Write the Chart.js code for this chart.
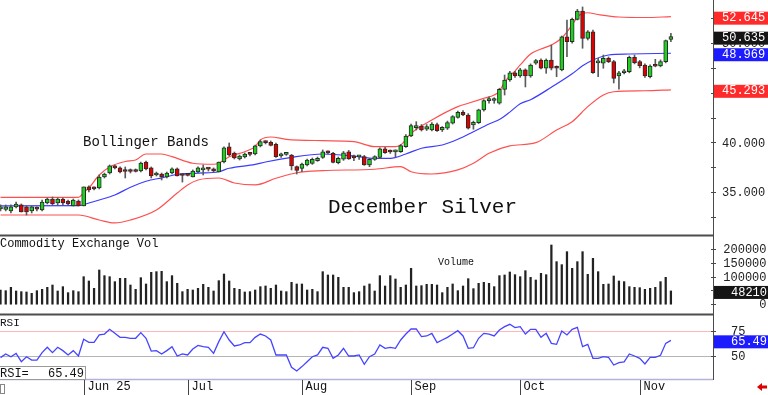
<!DOCTYPE html>
<html>
<head>
<meta charset="utf-8">
<script src="https://cdn.jsdelivr.net/npm/chart.js@4.4.1/dist/chart.umd.min.js"></script>
<style>
  html, body { margin: 0; padding: 0; background: #fff; }
  #wrap { position: relative; width: 768px; height: 395px; overflow: hidden; background: #fff; }
  canvas { position: absolute; left: 0; }
</style>
</head>
<body>
<div id="wrap">
  <canvas id="priceChart" width="768" height="235" style="top:0px"></canvas>
  <canvas id="volChart" width="768" height="80" style="top:234px"></canvas>
  <canvas id="rsiChart" width="768" height="82" style="top:313px"></canvas>
</div>
<script>
// Daily bars, index 0 = first bar on screen (mid May), index 129 = last bar
const dateTicks = [16, 36, 58, 79, 100, 123];
const dateLabels = ['Jun 25', 'Jul', 'Aug', 'Sep', 'Oct', 'Nov'];

const openVals = [
  33.32, 33.27, 33.12, 33.52, 33.72, 33.52, 33.12, 33.35, 33.22, 33.92,
  34.32, 33.92, 34.32, 34.12, 33.62, 34.12, 33.62, 35.53, 35.43, 35.43,
  36.53, 36.93, 37.64, 37.44, 37.18, 37.18, 37.18, 37.13, 38.04, 37.44,
  36.73, 36.83, 36.53, 36.93, 37.34, 36.78, 36.78, 36.53, 37.03, 37.24,
  37.40, 37.34, 37.03, 38.04, 39.55, 38.94, 38.34, 38.54, 38.88, 38.84,
  39.65, 40.05, 40.02, 39.82, 38.65, 38.80, 38.74, 37.57, 37.40, 37.74,
  37.90, 38.17, 38.50, 39.00, 38.91, 37.97, 38.31, 39.07, 38.50, 38.55,
  38.57, 37.74, 38.30, 38.51, 39.35, 39.10, 39.05, 39.07, 39.57, 40.65,
  41.49, 41.66, 41.33, 41.25, 41.79, 41.25, 41.43, 41.93, 42.53, 43.03,
  42.76, 41.76, 42.00, 43.27, 44.20, 44.22, 43.94, 45.34, 46.28, 47.01,
  46.68, 47.29, 46.68, 47.96, 48.29, 47.46, 48.29, 47.55, 47.29, 50.63,
  50.13, 52.38, 53.21, 50.47, 51.13, 48.00, 47.96, 48.46, 48.12, 46.68,
  47.01, 47.11, 48.56, 48.12, 47.79, 46.61, 47.72, 47.69, 48.12, 50.35
];
const highVals = [
  33.72, 33.72, 33.72, 34.02, 33.82, 33.62, 33.62, 33.52, 34.22, 34.42,
  34.52, 34.42, 34.42, 34.22, 34.32, 34.22, 35.53, 35.63, 35.53, 36.73,
  36.93, 37.74, 37.74, 37.54, 37.54, 37.34, 37.34, 38.04, 38.14, 37.54,
  37.03, 36.93, 37.03, 37.44, 37.44, 36.83, 36.83, 37.24, 37.54, 37.74,
  37.44, 37.44, 38.04, 39.55, 39.95, 39.04, 38.74, 38.94, 38.94, 39.75,
  40.25, 40.15, 40.15, 39.95, 38.94, 38.94, 38.80, 37.64, 37.94, 38.34,
  38.44, 38.54, 39.25, 39.17, 39.00, 38.54, 39.10, 39.20, 38.74, 38.70,
  38.70, 38.40, 38.67, 39.45, 39.50, 39.25, 39.25, 39.80, 40.80, 41.86,
  42.09, 41.80, 41.80, 42.00, 41.95, 41.60, 42.15, 42.70, 43.15, 43.20,
  42.90, 42.15, 43.35, 44.30, 44.60, 44.50, 45.45, 46.78, 47.15, 47.15,
  47.45, 47.40, 47.90, 48.35, 48.40, 48.40, 49.80, 47.70, 50.70, 52.31,
  52.50, 53.38, 53.62, 51.25, 51.30, 48.46, 48.79, 48.60, 48.25, 47.15,
  47.35, 48.69, 48.79, 48.25, 47.90, 47.80, 48.36, 48.30, 50.30, 50.97
];
const lowVals = [
  33.12, 33.12, 32.91, 33.42, 33.01, 32.71, 32.91, 33.12, 33.12, 33.82,
  33.72, 33.72, 33.72, 33.72, 33.62, 33.62, 33.62, 35.02, 35.22, 35.33,
  36.43, 36.83, 37.34, 36.93, 36.43, 36.93, 37.03, 37.03, 37.24, 36.43,
  36.63, 36.23, 36.43, 36.83, 36.63, 36.02, 36.63, 36.53, 36.93, 36.73,
  37.13, 37.03, 37.03, 37.94, 38.64, 38.34, 38.24, 38.44, 38.64, 38.74,
  39.55, 39.85, 39.65, 38.50, 38.50, 38.70, 37.24, 36.83, 37.07, 37.64,
  37.80, 38.10, 38.40, 38.84, 37.94, 37.85, 38.20, 38.30, 38.17, 38.30,
  37.70, 37.57, 38.20, 38.40, 38.90, 38.90, 38.57, 39.00, 39.50, 40.58,
  41.25, 41.15, 41.20, 41.15, 41.10, 41.10, 41.30, 41.85, 42.45, 42.70,
  41.35, 41.33, 41.90, 43.15, 43.94, 43.94, 43.85, 44.77, 46.15, 46.55,
  46.55, 45.58, 46.55, 47.85, 47.40, 46.95, 47.29, 46.61, 47.20, 48.62,
  49.97, 52.31, 49.47, 50.30, 46.95, 46.61, 47.46, 48.02, 45.98, 45.37,
  46.90, 47.00, 47.90, 47.50, 46.55, 46.50, 47.60, 47.60, 48.00, 50.12
];
const closeVals = [
  33.52, 33.52, 33.52, 33.82, 33.01, 33.01, 33.52, 33.30, 34.02, 34.32,
  33.82, 34.32, 33.92, 33.82, 34.22, 33.62, 35.53, 35.22, 35.33, 36.53,
  36.83, 37.64, 37.44, 37.03, 37.08, 37.08, 37.08, 37.94, 37.34, 36.63,
  36.93, 36.53, 36.93, 37.34, 36.63, 36.68, 36.70, 37.13, 37.44, 37.44,
  37.32, 37.13, 38.04, 39.45, 38.74, 38.44, 38.64, 38.84, 38.80, 39.65,
  40.08, 39.98, 39.70, 38.57, 38.82, 38.84, 37.64, 37.18, 37.84, 38.24,
  38.30, 38.40, 39.07, 38.96, 38.00, 38.41, 38.97, 38.34, 38.45, 38.61,
  37.74, 38.30, 38.57, 39.35, 38.97, 39.04, 39.07, 39.68, 40.65, 41.69,
  41.69, 41.25, 41.59, 41.86, 41.19, 41.52, 41.99, 42.59, 43.03, 42.76,
  41.43, 42.03, 43.27, 44.20, 44.37, 44.30, 45.34, 46.28, 47.01, 46.68,
  47.29, 46.68, 47.79, 48.22, 47.46, 48.29, 47.46, 47.46, 50.63, 50.13,
  52.38, 53.21, 50.47, 51.13, 47.01, 48.05, 48.46, 48.12, 46.45, 47.01,
  47.21, 48.56, 48.02, 47.72, 46.68, 47.69, 47.66, 48.12, 50.23, 50.635
];

// Bollinger bands, read as [bar index, value]
const upperBand = [
  [0, 34.49], [15, 34.49], [16, 34.95], [17, 35.43], [19, 36.73], [21, 37.54], [24, 38.09],
  [26, 38.24], [28, 38.84], [31, 38.84], [33, 38.57], [37, 37.91], [41, 37.81], [42, 37.91],
  [44, 38.57], [47, 39.07], [49, 39.58], [50, 40.25], [52, 40.55], [55, 40.32], [62, 40.18],
  [68, 40.08], [72, 39.58], [76, 39.58], [77, 39.75], [79, 40.92], [83, 42.26], [88, 43.60],
  [90, 43.94], [93, 44.44], [95, 44.77], [96, 45.17], [97, 46.08], [98, 46.68], [99, 47.18],
  [100, 47.79], [102, 48.89], [104, 49.40], [106, 49.80], [108, 50.50], [110, 51.81],
  [111, 52.61], [112, 52.96], [113, 53.04], [115, 52.86], [119, 52.61], [124, 52.56], [129, 52.645]
];
const middleBand = [
  [0, 33.62], [15, 33.65], [17, 33.92], [19, 34.22], [22, 34.72], [25, 35.50], [28, 36.10],
  [31, 36.45], [34, 36.78], [38, 36.92], [42, 37.06], [44, 37.41], [49, 37.79], [51, 38.04],
  [56, 38.51], [62, 38.84], [68, 38.64], [72, 38.41], [75, 38.41], [78, 38.84], [81, 39.42],
  [85, 39.75], [88, 40.32], [91, 41.08], [94, 41.86], [96, 42.30], [98, 43.05], [100, 43.90],
  [102, 44.30], [106, 45.55], [110, 46.90], [112, 47.70], [114, 48.29], [117, 48.79],
  [121, 48.89], [129, 48.969]
];
const lowerBand = [
  [0, 32.71], [15, 32.71], [19, 32.21], [22, 31.91], [25, 32.21], [30, 33.22], [34, 34.92],
  [36, 35.73], [38, 36.23], [42, 36.43], [45, 35.93], [49, 35.73], [53, 36.40], [57, 36.96],
  [62, 37.17], [72, 37.31], [77, 37.57], [79, 37.06], [83, 36.83], [88, 37.24], [91, 37.91],
  [94, 38.91], [98, 39.65], [103, 39.98], [107, 41.25], [110, 42.09], [113, 43.60],
  [116, 44.77], [118, 45.10], [124, 45.20], [129, 45.293]
];

const volume = [
  51600, 49200, 61300, 48000, 45600, 44400, 39500, 49200, 54100, 61300,
  69800, 48000, 63800, 42000, 49200, 45600, 100100, 84400, 57700, 124400,
  103800, 100100, 82000, 94100, 94100, 69800, 54100, 96500, 73500, 115900,
  118300, 119500, 82000, 103800, 75900, 45600, 54100, 51600, 57700, 72200,
  61300, 48000, 85600, 109800, 84400, 57700, 54100, 44400, 45600, 51600,
  63800, 66200, 57700, 69800, 48000, 45600, 79500, 73500, 73500, 51600,
  54100, 45600, 118300, 106200, 106200, 97700, 61300, 61300, 42000, 45600,
  66200, 73500, 48000, 103800, 66200, 103800, 91600, 61300, 69800, 130400,
  66200, 67400, 72200, 72200, 69800, 42000, 61300, 73500, 49200, 66200,
  92800, 56500, 75900, 79500, 75900, 63800, 103800, 106200, 117100, 107400,
  100100, 121900, 97700, 88000, 112200, 107400, 215300, 154700, 143800, 191000,
  130400, 154700, 191000, 108600, 166800, 118300, 72200, 73500, 102600, 84400,
  82000, 63800, 61300, 60100, 54100, 57700, 61300, 82000, 97700, 48210
];

const rsi = [
  48.4, 52.0, 49.3, 52.6, 44.4, 49.3, 46.0, 46.0, 53.3, 58.6,
  53.3, 58.6, 55.3, 51.0, 55.3, 50.0, 66.5, 63.5, 63.5, 70.8,
  71.7, 76.4, 72.4, 68.4, 68.4, 67.5, 67.5, 73.1, 67.5, 54.9,
  55.3, 52.0, 55.3, 59.2, 50.0, 52.0, 51.0, 56.9, 60.5, 59.2,
  58.6, 52.6, 64.2, 74.0, 65.8, 59.9, 60.9, 63.2, 63.2, 68.4,
  71.7, 69.8, 65.8, 51.0, 51.0, 51.0, 38.8, 35.2, 39.5, 44.4,
  49.3, 51.0, 58.6, 57.6, 47.7, 51.0, 57.6, 50.0, 50.0, 51.0,
  41.8, 49.3, 52.0, 60.9, 57.6, 58.6, 57.6, 65.8, 71.7, 76.7,
  76.7, 69.1, 69.8, 72.4, 63.2, 65.8, 68.4, 71.7, 75.0, 69.8,
  57.6, 58.2, 67.5, 72.4, 71.7, 69.8, 75.7, 79.0, 81.3, 78.0,
  79.0, 71.7, 76.4, 76.4, 68.4, 72.4, 62.5, 61.5, 74.7, 70.8,
  76.4, 78.3, 59.2, 61.5, 47.7, 47.7, 49.3, 48.7, 41.1, 43.4,
  44.1, 52.0, 50.0, 47.7, 42.1, 48.7, 48.7, 50.7, 62.5, 65.49
];

const priceTicks = [35, 40, 45, 50];
const volTicks = [0, 50000, 100000, 150000, 200000];
const rsiTicks = [50, 75];

// ---- helpers ----
const MONO = '"Liberation Mono", "DejaVu Sans Mono", monospace';
const last = arr => arr[arr.length - 1];

function baseOptions(yMin, yMax, pad) {
  return {
    responsive: false,
    animation: false,
    events: [],
    layout: { padding: pad },
    plugins: { legend: { display: false }, tooltip: { enabled: false } },
    scales: {
      x: { type: 'linear', display: false, min: -0.1, max: 137.1, offset: false },
      y: { type: 'linear', display: false, min: yMin, max: yMax }
    }
  };
}

function hline(ctx, x1, x2, y) {
  ctx.beginPath(); ctx.moveTo(x1, y); ctx.lineTo(x2, y); ctx.stroke();
}

function axisLine(chart, bottom) {
  const ctx = chart.ctx;
  const x = chart.chartArea.right + 0.5;
  ctx.strokeStyle = '#4a4a4a';
  ctx.lineWidth = 1;
  ctx.beginPath(); ctx.moveTo(x, 0); ctx.lineTo(x, bottom); ctx.stroke();
}

function tag(ctx, py, bg, text, tx, align) {
  ctx.fillStyle = bg;
  ctx.fillRect(714, py - 6, 54, 13);
  ctx.fillStyle = '#fff';
  ctx.textAlign = align;
  ctx.fillText(text, tx, py + 0.5);
}

function separator(chart) {
  chart.ctx.fillStyle = '#4d4d4d';
  chart.ctx.fillRect(0, 0.5, chart.chartArea.right + 1, 2);
}

// ---- price panel ----
const pricePanel = {
  id: 'pricePanel',
  afterDraw(chart) {
    const { ctx, chartArea: a } = chart;
    const y = chart.scales.y;
    ctx.save();
    axisLine(chart, chart.height);
    ctx.strokeStyle = '#4a4a4a';
    for (let v = 30; v <= 55; v += 2.5) {
      const py = Math.round(y.getPixelForValue(v)) + 0.5;
      if (py > 0 && py < chart.height) hline(ctx, a.right - 2, a.right + 3, py);
    }
    ctx.font = '12px ' + MONO;
    ctx.textBaseline = 'middle';
    ctx.textAlign = 'left';
    ctx.fillStyle = '#222';
    priceTicks.forEach(v => ctx.fillText(v.toFixed(3), a.right + 9, y.getPixelForValue(v) + 1));

    const upper = last(upperBand)[1], mid = last(middleBand)[1], lower = last(lowerBand)[1];
    tag(ctx, y.getPixelForValue(upper) + 1, '#ff2b2b', upper.toFixed(3), a.right + 9, 'left');
    tag(ctx, y.getPixelForValue(last(closeVals)) + 1, '#151515', last(closeVals).toFixed(3), a.right + 9, 'left');
    tag(ctx, y.getPixelForValue(mid) + 1, '#1c1cff', mid.toFixed(3), a.right + 9, 'left');
    tag(ctx, y.getPixelForValue(lower) + 1, '#ff2b2b', lower.toFixed(3), a.right + 9, 'left');

    ctx.fillStyle = '#111';
    ctx.textAlign = 'left';
    ctx.textBaseline = 'alphabetic';
    ctx.font = '14px ' + MONO;
    ctx.fillText('Bollinger Bands', 83, 146);
    ctx.font = '21px ' + MONO;
    ctx.fillText('December Silver', 328, 213);
    ctx.restore();
  }
};

const bodyColors = closeVals.map((c, i) => c >= openVals[i] ? '#1fd11f' : '#e00000');
const lineDs = (pts, color) => ({
  type: 'line',
  data: pts.map(p => ({ x: p[0], y: p[1] })),
  borderColor: color,
  borderWidth: 1.2,
  pointRadius: 0,
  tension: 0.35,
  cubicInterpolationMode: 'monotone',
  fill: false,
  order: 3
});

new Chart(document.getElementById('priceChart'), {
  type: 'bar',
  data: {
    datasets: [
      lineDs(upperBand, '#ff5050'),
      lineDs(middleBand, '#3b3bff'),
      lineDs(lowerBand, '#ff5050'),
      {
        data: lowVals.map((l, i) => ({ x: i, y: [l, highVals[i]] })),
        backgroundColor: '#5a5a5a',
        barThickness: 1,
        grouped: false,
        order: 2
      },
      {
        data: openVals.map((o, i) => ({ x: i, y: [o, closeVals[i]] })),
        backgroundColor: bodyColors,
        borderColor: '#2a2a2a',
        borderWidth: 1,
        borderSkipped: false,
        barThickness: 4,
        minBarLength: 2,
        grouped: false,
        order: 1
      }
    ]
  },
  options: baseOptions(30.70, 54.32, { left: 0, right: 55, top: 0, bottom: 0 }),
  plugins: [pricePanel]
});

// ---- volume panel ----
const volPanel = {
  id: 'volPanel',
  afterDraw(chart) {
    const { ctx, chartArea: a } = chart;
    const y = chart.scales.y;
    ctx.save();
    separator(chart);
    axisLine(chart, chart.height);
    ctx.strokeStyle = '#4a4a4a';
    volTicks.forEach(v => hline(ctx, a.right - 2, a.right + 3, Math.round(y.getPixelForValue(v)) + 0.5));
    ctx.font = '12px ' + MONO;
    ctx.textBaseline = 'middle';
    ctx.textAlign = 'right';
    ctx.fillStyle = '#222';
    volTicks.forEach(v => ctx.fillText(String(v), 766.5, y.getPixelForValue(v) + 1));
    tag(ctx, y.getPixelForValue(last(volume)) + 1, '#151515', String(last(volume)), 767, 'right');

    ctx.fillStyle = '#111';
    ctx.textAlign = 'left';
    ctx.textBaseline = 'alphabetic';
    ctx.font = '12px ' + MONO;
    ctx.fillText('Commodity Exchange Vol', 0, 13);
    ctx.font = '10px ' + MONO;
    ctx.fillText('Volume', 438, 31);
    ctx.restore();
  }
};

new Chart(document.getElementById('volChart'), {
  type: 'bar',
  data: {
    datasets: [{
      data: volume.map((v, i) => ({ x: i, y: v })),
      backgroundColor: '#222',
      barThickness: 1.6
    }]
  },
  options: baseOptions(-32000, 244364, { left: 0, right: 55, top: 3, bottom: 1 }),
  plugins: [volPanel]
});

// ---- RSI panel ----
const rsiPanel = {
  id: 'rsiPanel',
  beforeDatasetsDraw(chart) {
    const { ctx, chartArea: a } = chart;
    const y = chart.scales.y;
    ctx.save();
    ctx.lineWidth = 1;
    ctx.strokeStyle = '#ffb8b8';
    hline(ctx, a.left, a.right, Math.round(y.getPixelForValue(75)) + 0.5);
    ctx.strokeStyle = '#b4b4b4';
    hline(ctx, a.left, a.right, Math.round(y.getPixelForValue(50)) + 0.5);
    ctx.restore();
  },
  afterDraw(chart) {
    const { ctx, chartArea: a } = chart;
    const y = chart.scales.y, x = chart.scales.x;
    ctx.save();
    separator(chart);
    // bottom border of the panel
    ctx.strokeStyle = '#b2b2dc';
    ctx.lineWidth = 1.5;
    hline(ctx, 0, a.right, a.bottom - 0.5);
    axisLine(chart, a.bottom);
    ctx.strokeStyle = '#4a4a4a';
    ctx.lineWidth = 1;
    rsiTicks.forEach(v => hline(ctx, a.right - 2, a.right + 3, Math.round(y.getPixelForValue(v)) + 0.5));

    ctx.font = '12px ' + MONO;
    ctx.textBaseline = 'middle';
    ctx.textAlign = 'left';
    ctx.fillStyle = '#222';
    rsiTicks.forEach(v => ctx.fillText(String(v), 731, y.getPixelForValue(v) + 1));
    tag(ctx, y.getPixelForValue(last(rsi)) + 1, '#1c1cff', last(rsi).toFixed(2), 731, 'left');

    // panel title and value box
    ctx.fillStyle = '#111';
    ctx.font = '11px ' + MONO;
    ctx.fillText('RSI', 0, 10);
    ctx.fillStyle = '#fff';
    ctx.fillRect(0, 53, 86, 13);
    ctx.strokeStyle = '#9a9a9a';
    ctx.strokeRect(-0.5, 53.5, 86, 13);
    ctx.fillStyle = '#111';
    ctx.font = '12px ' + MONO;
    ctx.fillText('RSI=', 0, 60.5);
    ctx.textAlign = 'right';
    ctx.fillText(last(rsi).toFixed(2), 84, 60.5);

    // date axis
    ctx.textAlign = 'left';
    ctx.strokeStyle = '#444';
    dateTicks.forEach((idx, k) => {
      const px = Math.round(x.getPixelForValue(idx)) + 0.5;
      ctx.beginPath(); ctx.moveTo(px, a.bottom); ctx.lineTo(px, chart.height); ctx.stroke();
      ctx.fillText(dateLabels[k], px + 3, a.bottom + 7);
    });

    // small box bottom-left and red arrow bottom-right
    ctx.strokeStyle = '#888';
    ctx.strokeRect(0.5, 71.5, 4, 9);
    ctx.fillStyle = '#e00000';
    ctx.beginPath();
    ctx.moveTo(757, 74);
    ctx.lineTo(762, 70);
    ctx.lineTo(762, 72.5);
    ctx.lineTo(767, 72.5);
    ctx.lineTo(767, 75.5);
    ctx.lineTo(762, 75.5);
    ctx.lineTo(762, 78);
    ctx.closePath();
    ctx.fill();
    ctx.restore();
  }
};

new Chart(document.getElementById('rsiChart'), {
  type: 'line',
  data: {
    datasets: [{
      data: rsi.map((r, i) => ({ x: i, y: r })),
      borderColor: '#4545ff',
      borderWidth: 1.3,
      pointRadius: 0,
      tension: 0,
      fill: false
    }]
  },
  options: baseOptions(26.28, 89.53, { left: 0, right: 55, top: 3, bottom: 15 }),
  plugins: [rsiPanel]
});
</script>
</body>
</html>
